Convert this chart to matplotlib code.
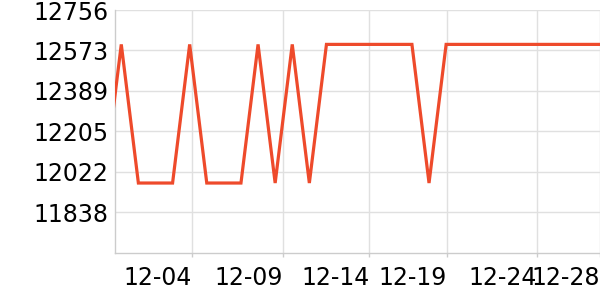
import matplotlib
matplotlib.use("Agg")
import matplotlib.pyplot as plt
import numpy as np

# data (index positions along the category/time axis)
values = [11970, 12600, 11970, 11970, 11970, 12600, 11970, 11970, 11970, 12600,
          11970, 12600, 11970, 12600, 12600, 12600, 12600, 12600, 12600, 11970,
          12600, 12600, 12600, 12600, 12600, 12600, 12600, 12600, 12600, 12600]
x_tick_labels = ["12-04", "12-09", "12-14", "12-19", "12-24", "12-28"]
x_tick_pos = [5.12, 10.43, 15.51, 20.06, 25.32, 29.0]
y_tick_labels = ["11838", "12022", "12205", "12389", "12573", "12756"]
y_min, y_max = 11654.3, 12756.3

fig = plt.figure(figsize=(6, 3), dpi=100)
ax = fig.add_axes([115.3 / 600, 1 - 252.5 / 300, 1 - 115.3 / 600, (252.5 - 10) / 300])

x = np.arange(len(values))
ax.plot(x, values, color="#ee4a2b", lw=2.3, solid_joinstyle="miter", zorder=3)

ax.set_xlim(0.65, 29.0)
ax.set_ylim(y_min, y_max)

yt = np.linspace(y_min, y_max, 7)[1:]
ax.set_yticks(yt)
ax.set_yticklabels(y_tick_labels)
ax.set_xticks(x_tick_pos)
ax.set_xticklabels(x_tick_labels, ha="right")

for s in ["top", "right"]:
    ax.spines[s].set_visible(False)
for s in ["left", "bottom"]:
    ax.spines[s].set_color("#cccccc")
    ax.spines[s].set_linewidth(1)

ax.grid(True, color="#e0e0e0", lw=1, zorder=0)
ax.set_axisbelow(True)
ax.tick_params(axis="y", length=0, pad=5, labelsize=17, colors="black")
ax.tick_params(axis="x", length=3, width=1, color="#cccccc", pad=7, labelsize=17, labelcolor="black")

fig.savefig("out.png", dpi=100)
